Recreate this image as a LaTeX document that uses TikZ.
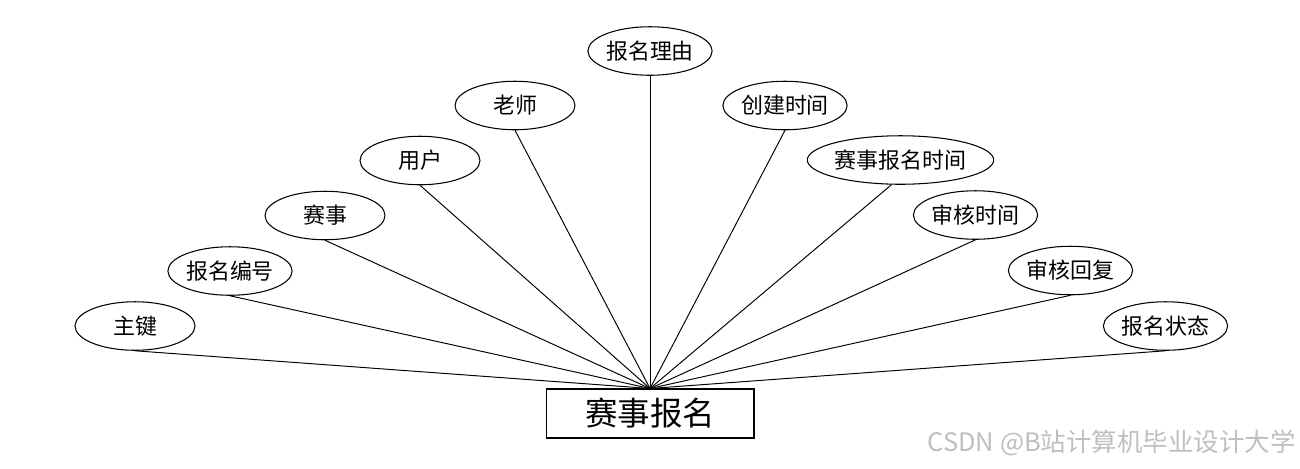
\documentclass[tikz,border=0pt]{standalone}
\usepackage{fontspec}
\usepackage{tikz}
\usetikzlibrary{positioning,shapes.geometric}
\newfontfamily\cjk{Noto Sans CJK SC}

\begin{document}
\begin{tikzpicture}[
  x=0.02cm, y=-0.02cm,
  attr/.style={draw, ellipse, line width=0.6pt, inner sep=0pt,
               minimum width=2.4cm, minimum height=0.97cm,
               font=\cjk\fontsize{12.5}{14}\selectfont},
  entity/.style={draw, line width=0.6pt, minimum width=4.16cm,
                 minimum height=0.98cm, font=\cjk\fontsize{18.5}{20}\selectfont},
  link/.style={line width=0.55pt}
]
  \useasboundingbox (0,0) rectangle (1300,468);

  \node[entity] (bm) at (650,413.5) {赛事报名};

  \node[attr] (zj)   at (135,326) {主键};
  \node[attr] (bh)   at (230,271) {报名编号};
  \node[attr] (ss)   at (325,215.5) {赛事};
  \node[attr] (yh)   at (420,160.5) {用户};
  \node[attr] (ls)   at (515,105.5) {老师};
  \node[attr] (ly)   at (650,51) {报名理由};
  \node[attr] (cj)   at (785,105.5) {创建时间};
  \node[attr, minimum width=3.18cm] (bmsj) at (900.5,160) {赛事报名时间};
  \node[attr] (shsj) at (975.5,215) {审核时间};
  \node[attr] (shhf) at (1070.5,270.5) {审核回复};
  \node[attr] (zt)   at (1165.5,326) {报名状态};

  \draw[link] (zj.south)   -- (bm.north);
  \draw[link] (bh.south)   -- (bm.north);
  \draw[link] (ss.south)   -- (bm.north);
  \draw[link] (yh.south)   -- (bm.north);
  \draw[link] (ls.south)   -- (bm.north);
  \draw[link] (ly.south)   -- (bm.north);
  \draw[link] (cj.south)   -- (bm.north);
  \draw[link] (bmsj.250)   -- (bm.north);
  \draw[link] (shsj.south) -- (bm.north);
  \draw[link] (shhf.south) -- (bm.north);
  \draw[link] (zt.south)   -- (bm.north);

  % watermark
  \node[anchor=east, inner sep=0pt, text=black!25,
        font=\cjk\fontsize{14.5}{16}\selectfont] (wm) at (1296,443)
    {CSDN @B站计算机毕业设计大学};
\end{tikzpicture}
\end{document}
